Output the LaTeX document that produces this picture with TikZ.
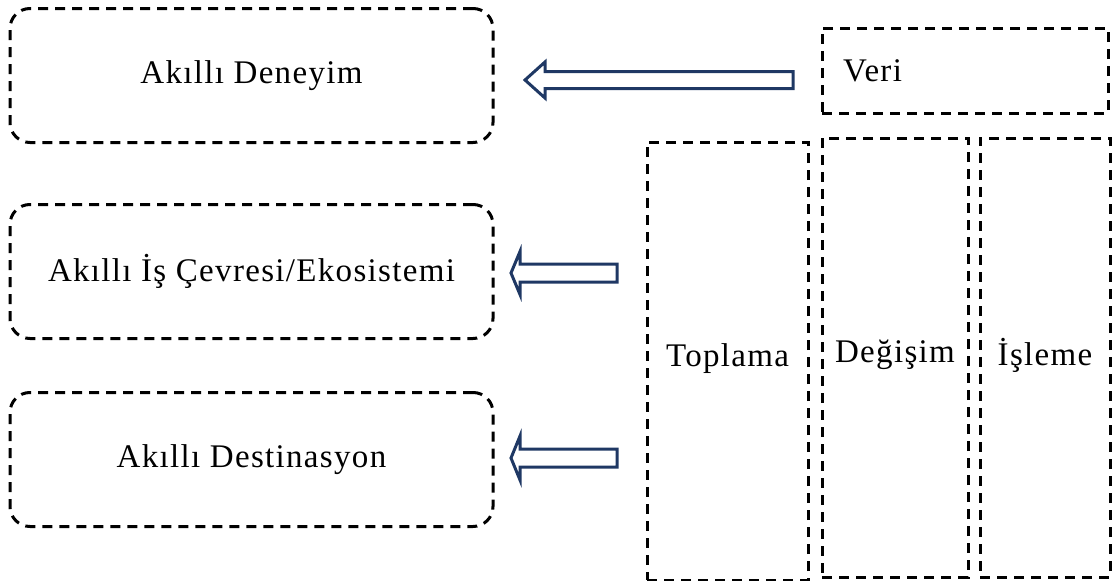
\documentclass[tikz,border=0pt]{standalone}
\usepackage{fontspec}
\setmainfont{Liberation Serif}[LetterSpace=4]
\usetikzlibrary{positioning}
\definecolor{navyline}{RGB}{31,56,100}

% block arrow pointing left: tip x, mid y, head back x, tail x, head half, shaft half
\newcommand{\leftblock}[6]{%
  \draw[blockarrow] (#1,#2) -- (#3,#2-#5) -- (#3,#2-#6) -- (#4,#2-#6)
    -- (#4,#2+#6) -- (#3,#2+#6) -- (#3,#2+#5) -- cycle;}

\begin{document}
\begin{tikzpicture}[
      x=1pt, y=-1pt,
      every node/.style={font=\fontsize{33}{40}\selectfont},
      outcome/.style={draw, line width=3pt, dash pattern=on 10pt off 7pt, rounded corners=20pt, minimum width=483pt, minimum height=134pt, inner sep=0pt},
      datacol/.style={draw, line width=3pt, dash pattern=on 10pt off 7pt, minimum height=439pt, inner sep=0pt},
      blockarrow/.style={draw=navyline, line width=3pt, fill=white, line join=miter}
  ]
    \useasboundingbox (0,0) rectangle (1117,581);
    % results on the left
    \node[outcome] (deneyim) at (251.5,75.5) {Akıllı Deneyim};
    \node[outcome] (ekosistem) at (251.5,271.5) {Akıllı İş Çevresi/Ekosistemi};
    \node[outcome] (destinasyon) at (251.5,459.5) {Akıllı Destinasyon};
    % data and its stages
    \node[draw, line width=3pt, dash pattern=on 10pt off 7pt, minimum width=286pt, minimum height=85pt,
          text width=244pt, inner sep=21pt, align=left] (veri) at (965,70.5) {Veri};
    \node[datacol, minimum width=161pt, minimum height=438pt, text depth=12pt] (toplama) at (727.5,361) {Toplama};
    \node[datacol, minimum width=146pt, text depth=12pt] (degisim) at (895,357.5) {Değişim};
    \node[datacol, minimum width=130pt, text depth=12pt] (isleme) at (1045,357.5) {İşleme};
    % arrows
    \leftblock{525}{80}{545}{793}{18}{8.5}
    \leftblock{511}{273}{520}{617}{21.5}{9}
    \leftblock{511}{458}{520}{617}{22}{9}
  \end{tikzpicture}
\end{document}
